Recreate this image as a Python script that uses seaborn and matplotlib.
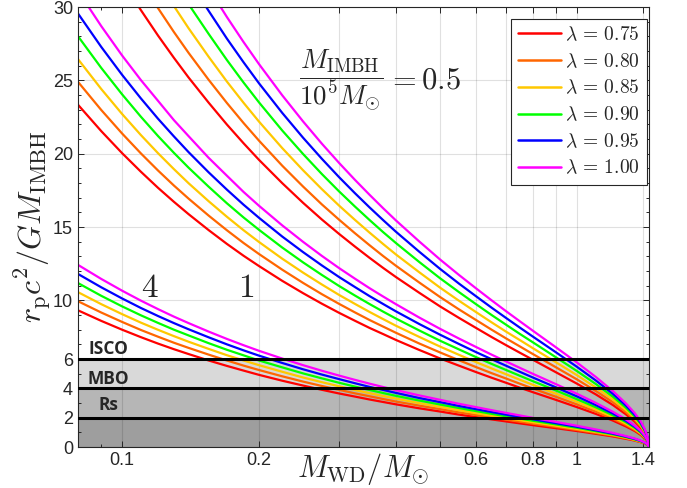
import matplotlib
matplotlib.use('Agg')
import matplotlib.pyplot as plt
import matplotlib.ticker as mticker
import seaborn as sns
import pandas as pd

mass = [0.08, 0.09, 0.1, 0.11, 0.12, 0.13, 0.14, 0.155, 0.17, 0.185,
        0.2, 0.225, 0.25, 0.275, 0.3, 0.325, 0.35, 0.375, 0.4, 0.45,
        0.5, 0.55, 0.6, 0.65, 0.7, 0.75, 0.8, 0.9, 1.0, 1.1,
        1.2, 1.28, 1.34, 1.38, 1.41, 1.43, 1.44]

lambdas = ['0.75', '0.80', '0.85', '0.90', '0.95', '1.00']
line_colors = ['#ff0000', '#ff6600', '#ffc800', '#00ff00', '#0000ff', '#ff00ff']

# upper family (beta = 1)
up_075 = [37.1, 34.2, 31.8, 29.79, 28.05, 26.54, 25.20, 23.48, 21.99, 20.71,
          19.58, 17.99, 16.65, 15.51, 14.53, 13.67, 12.90, 12.21, 11.59, 10.52,
          9.59, 8.81, 8.12, 7.49, 6.93, 6.42, 5.95, 5.09, 4.32, 3.59,
          2.86, 2.24, 1.73, 1.32, 0.92, 0.53, 0]
up_080 = [39.5, 36.5, 33.9, 31.78, 29.92, 28.30, 26.88, 25.04, 23.46, 22.09,
          20.89, 19.18, 17.76, 16.54, 15.50, 14.58, 13.76, 13.02, 12.36, 11.22,
          10.23, 9.39, 8.66, 7.99, 7.39, 6.85, 6.34, 5.43, 4.61, 3.82,
          3.05, 2.39, 1.85, 1.41, 0.98, 0.56, 0]
up_085 = [42.0, 38.7, 36.0, 33.76, 31.8, 30.07, 28.56, 26.61, 24.92, 23.47,
          22.19, 20.38, 18.87, 17.58, 16.46, 15.49, 14.62, 13.84, 13.13, 11.92,
          10.87, 9.98, 9.20, 8.49, 7.85, 7.28, 6.74, 5.77, 4.90, 4.06,
          3.24, 2.54, 1.96, 1.50, 1.04, 0.60, 0]
up_090 = [44.5, 41.0, 38.2, 35.75, 33.7, 31.84, 30.2, 28.17, 26.39, 24.85,
          23.50, 21.58, 19.98, 18.61, 17.43, 16.40, 15.48, 14.65, 13.91, 12.62,
          11.51, 10.57, 9.74, 8.99, 8.32, 7.70, 7.14, 6.11, 5.18, 4.30,
          3.43, 2.69, 2.08, 1.58, 1.10, 0.63, 0]
up_095 = [46.9, 43.3, 40.3, 37.73, 35.5, 33.61, 31.9, 29.74, 27.85, 26.23,
          24.80, 22.78, 21.09, 19.65, 18.40, 17.31, 16.34, 15.47, 14.68, 13.32,
          12.15, 11.15, 10.28, 9.49, 8.78, 8.13, 7.53, 6.45, 5.47, 4.54,
          3.62, 2.84, 2.19, 1.67, 1.16, 0.67, 0]
up_100 = [49.4, 45.6, 42.4, 39.72, 37.4, 35.38, 33.6, 31.30, 29.32, 27.61,
          26.11, 23.98, 22.20, 20.68, 19.37, 18.22, 17.20, 16.28, 15.45, 14.02,
          12.79, 11.74, 10.82, 9.99, 9.24, 8.56, 7.93, 6.79, 5.76, 4.78,
          3.81, 2.99, 2.31, 1.76, 1.22, 0.70, 0]

# middle family
mid_075 = [23.34, 21.54, 20.04, 18.77, 17.67, 16.72, 15.88, 14.79, 13.85, 13.04,
           12.34, 11.33, 10.49, 9.77, 9.15, 8.61, 8.12, 7.70, 7.30, 6.62,
           6.04, 5.55, 5.11, 4.72, 4.37, 4.04, 3.74, 3.21, 2.72, 2.26,
           1.80, 1.41, 1.09, 0.83, 0.58, 0.33, 0]
mid_080 = [24.90, 22.98, 21.38, 20.02, 18.85, 17.83, 16.94, 15.78, 14.78, 13.91,
           13.16, 12.09, 11.19, 10.42, 9.76, 9.18, 8.66, 8.21, 7.79, 7.06,
           6.45, 5.92, 5.45, 5.03, 4.66, 4.31, 3.99, 3.42, 2.90, 2.41,
           1.92, 1.51, 1.16, 0.89, 0.62, 0.36, 0]
mid_085 = [26.45, 24.41, 22.71, 21.27, 20.03, 18.95, 17.99, 16.76, 15.70, 14.78,
           13.98, 12.84, 11.89, 11.08, 10.37, 9.76, 9.21, 8.72, 8.27, 7.51,
           6.85, 6.29, 5.79, 5.35, 4.95, 4.58, 4.24, 3.63, 3.08, 2.56,
           2.04, 1.60, 1.24, 0.94, 0.66, 0.38, 0]
mid_090 = [28.01, 25.85, 24.05, 22.52, 21.20, 20.06, 19.05, 17.75, 16.62, 15.65,
           14.81, 13.60, 12.59, 11.73, 10.98, 10.33, 9.75, 9.23, 8.76, 7.95,
           7.25, 6.66, 6.13, 5.66, 5.24, 4.85, 4.49, 3.85, 3.26, 2.71,
           2.16, 1.70, 1.31, 1.00, 0.69, 0.40, 0]
mid_095 = [29.56, 27.28, 25.38, 23.77, 22.38, 21.18, 20.11, 18.73, 17.55, 16.52,
           15.63, 14.35, 13.29, 12.38, 11.59, 10.91, 10.29, 9.75, 9.25, 8.39,
           7.66, 7.03, 6.47, 5.98, 5.53, 5.12, 4.74, 4.06, 3.45, 2.86,
           2.28, 1.79, 1.38, 1.05, 0.73, 0.42, 0]
mid_100 = [31.1, 28.7, 26.7, 25.02, 23.6, 22.29, 21.2, 19.72, 18.5, 17.39,
           16.45, 15.11, 13.99, 13.03, 12.20, 11.48, 10.83, 10.26, 9.74, 8.83,
           8.06, 7.40, 6.82, 6.29, 5.82, 5.39, 4.99, 4.28, 3.63, 3.01,
           2.40, 1.89, 1.45, 1.11, 0.77, 0.44, 0]

# lower family (beta = 4)
low_075 = [9.32, 8.60, 8.00, 7.49, 7.05, 6.67, 6.34, 5.90, 5.53, 5.21,
           4.92, 4.52, 4.19, 3.90, 3.65, 3.44, 3.24, 3.07, 2.91, 2.64,
           2.42, 2.21, 2.04, 1.88, 1.74, 1.61, 1.49, 1.28, 1.09, 0.90,
           0.72, 0.56, 0.44, 0.33, 0.23, 0.14, 0]
low_080 = [9.94, 9.17, 8.53, 7.98, 7.52, 7.11, 6.76, 6.30, 5.90, 5.55,
           5.25, 4.82, 4.46, 4.16, 3.90, 3.66, 3.46, 3.27, 3.10, 2.82,
           2.58, 2.36, 2.18, 2.01, 1.86, 1.72, 1.59, 1.37, 1.16, 0.96,
           0.77, 0.60, 0.46, 0.35, 0.25, 0.14, 0]
low_085 = [10.56, 9.74, 9.06, 8.48, 7.99, 7.56, 7.18, 6.69, 6.26, 5.90,
           5.58, 5.13, 4.74, 4.42, 4.14, 3.89, 3.67, 3.48, 3.30, 2.99,
           2.74, 2.51, 2.31, 2.13, 1.97, 1.83, 1.69, 1.45, 1.23, 1.02,
           0.82, 0.64, 0.49, 0.37, 0.26, 0.15, 0]
low_090 = [11.18, 10.31, 9.59, 8.98, 8.46, 8.00, 7.61, 7.08, 6.63, 6.25,
           5.90, 5.43, 5.02, 4.68, 4.38, 4.12, 3.89, 3.68, 3.49, 3.17,
           2.90, 2.66, 2.45, 2.26, 2.09, 1.94, 1.79, 1.54, 1.31, 1.08,
           0.86, 0.68, 0.52, 0.40, 0.28, 0.16, 0]
low_095 = [11.80, 10.89, 10.13, 9.48, 8.93, 8.45, 8.03, 7.48, 7.00, 6.59,
           6.23, 5.73, 5.30, 4.94, 4.63, 4.35, 4.10, 3.89, 3.69, 3.34,
           3.06, 2.80, 2.58, 2.38, 2.20, 2.04, 1.89, 1.62, 1.38, 1.14,
           0.91, 0.71, 0.55, 0.42, 0.29, 0.17, 0]
low_100 = [12.42, 11.46, 10.66, 9.98, 9.40, 8.89, 8.45, 7.87, 7.37, 6.94,
           6.56, 6.03, 5.58, 5.20, 4.87, 4.58, 4.32, 4.09, 3.88, 3.52,
           3.22, 2.95, 2.72, 2.51, 2.32, 2.15, 1.99, 1.71, 1.45, 1.20,
           0.96, 0.75, 0.58, 0.44, 0.31, 0.18, 0]

families = {
    'up': [up_075, up_080, up_085, up_090, up_095, up_100],
    'mid': [mid_075, mid_080, mid_085, mid_090, mid_095, mid_100],
    'low': [low_075, low_080, low_085, low_090, low_095, low_100],
}

rows = []
for fam, curves in families.items():
    for lam, vals in zip(lambdas, curves):
        assert len(vals) == len(mass)
        for m, r in zip(mass, vals):
            rows.append({'mass': m, 'r': r, 'lam': r'$\lambda\,=\,%s$' % lam, 'family': fam})
df = pd.DataFrame(rows)
hue_order = [r'$\lambda\,=\,%s$' % l for l in lambdas]

sns.set_style('ticks')
plt.rcParams['font.family'] = ['Liberation Sans', 'DejaVu Sans']
plt.rcParams['mathtext.fontset'] = 'cm'
plt.rcParams['axes.edgecolor'] = '#262626'
plt.rcParams['xtick.color'] = '#262626'
plt.rcParams['ytick.color'] = '#262626'

fig = plt.figure(figsize=(6.87, 4.88), dpi=100)
ax = fig.add_axes([0.1135, 0.084, 0.8311, 0.9016])

# shaded regions below Rs / MBO / ISCO
ax.axhspan(0, 2, color='#9e9e9e', lw=0, zorder=0.2)
ax.axhspan(2, 4, color='#b6b6b6', lw=0, zorder=0.2)
ax.axhspan(4, 6, color='#d9d9d9', lw=0, zorder=0.2)

sns.lineplot(data=df, x='mass', y='r', hue='lam', units='family', estimator=None,
             hue_order=hue_order, palette=line_colors, lw=1.6, ax=ax)

for yy in [2, 4, 6]:
    ax.axhline(yy, color='k', lw=2.2, zorder=3)

ax.set_xscale('log')
ax.set_xlim(0.08, 1.44)
ax.set_ylim(0, 30)

xt = [0.1, 0.2, 0.3, 0.4, 0.5, 0.6, 0.7, 0.8, 0.9, 1.0, 1.4]
xl = ['0.1', '0.2', '', '', '', '0.6', '', '0.8', '', '1', '1.4']
ax.xaxis.set_major_locator(mticker.FixedLocator(xt))
ax.xaxis.set_major_formatter(mticker.FixedFormatter(xl))
ax.xaxis.set_minor_locator(mticker.FixedLocator([0.09]))
ax.xaxis.set_minor_formatter(mticker.NullFormatter())
ax.set_yticks([0, 2, 4, 6, 10, 15, 20, 25, 30])
ax.yaxis.set_minor_locator(mticker.MultipleLocator(1))

ax.tick_params(which='both', direction='in', top=True, right=True, labelsize=13, width=0.7)
ax.tick_params(which='major', length=4)
ax.tick_params(which='minor', length=2.5)
for s in ax.spines.values():
    s.set_linewidth(0.8)
    s.set_visible(True)

ax.grid(True, which='major', color='k', alpha=0.12, lw=0.8)
ax.set_axisbelow(True)

ax.set_xlabel(r'$M_{\rm WD}/M_{\odot}$', fontsize=22)
ax.xaxis.set_label_coords(0.5, -0.01)
ax.set_ylabel(r'$r_{\rm p}c^2/GM_{\rm IMBH}$', fontsize=23, labelpad=0)

leg_handles, leg_labels = ax.get_legend_handles_labels()
leg = ax.legend(leg_handles, leg_labels, loc='upper right', bbox_to_anchor=(0.9965, 0.973),
                borderaxespad=0, fontsize=14, frameon=True, fancybox=False, framealpha=1,
                edgecolor='#262626', handlelength=2.2, handletextpad=0.25, labelspacing=0.42,
                borderpad=0.35)
leg.get_frame().set_linewidth(0.8)
for h in leg.legend_handles:
    h.set_linewidth(1.8)

# annotations
ax.text(0.303, 25.0, r'$\dfrac{M_{\rm IMBH}}{10^5 M_{\odot}}$', fontsize=19.5,
        ha='center', va='center')
ax.text(0.383, 25.0, r'$= 0.5$', fontsize=22, ha='left', va='center')
ax.text(0.115, 10.8, r'$4$', fontsize=24, ha='center', va='center')
ax.text(0.1875, 10.8, r'$1$', fontsize=24, ha='center', va='center')

for txt, yy in [('ISCO', 6.71), ('MBO', 4.67), ('Rs', 2.86)]:
    ax.text(0.0932, yy, txt, fontsize=12.5, fontweight='bold', family='Open Sans',
            ha='center', va='center')

fig.savefig('out.png', dpi=100)
